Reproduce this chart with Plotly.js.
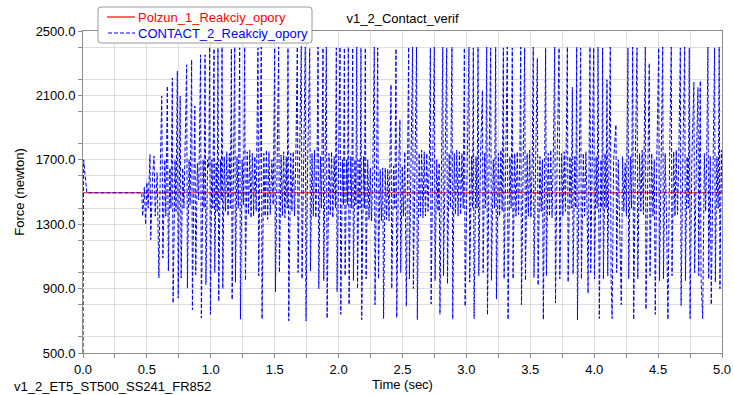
<!DOCTYPE html>
<html>
<head>
<meta charset="utf-8">
<script src="https://cdn.plot.ly/plotly-3.0.1.min.js"></script>
<style>html,body{margin:0;padding:0;background:#fff;}</style>
</head>
<body>
<div id="chart" style="width:734px;height:395px;"></div>
<script>
// ---- Data ----
const chartTitle = 'v1_2_Contact_verif';
const runLabel = 'v1_2_ET5_ST500_SS241_FR852';
const xTitle = 'Time (sec)';
const yTitle = 'Force (newton)';
const polzunName = 'Polzun_1_Reakciy_opory';
const contactName = 'CONTACT_2_Reakciy_opory';

// Polzun_1 reaction (constant)
const polzunTime = [0, 1, 2, 3, 4, 5];
const polzunForce = [1495, 1495, 1495, 1495, 1495, 1495];

// CONTACT_2 reaction, segment 0 - 0.98 s
const tA = [0, 0.005, 0.03, 0.46, 0.467, 0.48, 0.49, 0.50, 0.51, 0.524,
            0.53, 0.545, 0.556, 0.565, 0.58, 0.594, 0.605, 0.616, 0.625, 0.64,
            0.648, 0.66, 0.668, 0.68, 0.688, 0.699, 0.705, 0.72, 0.728, 0.738,
            0.745, 0.76, 0.768, 0.78, 0.79, 0.811, 0.817, 0.83, 0.838, 0.85,
            0.856, 0.875, 0.882, 0.895, 0.905, 0.92, 0.926, 0.94, 0.947, 0.955,
            0.962, 0.975];
const fA = [500, 1700, 1495, 1495, 1350, 1530, 1297, 1560, 1400, 1732,
            1204, 1600, 1723, 1350, 1620, 966, 1650, 2096, 1090, 1700,
            1350, 2158, 1009, 1650, 1400, 2208, 810, 1700, 1380, 2251,
            841, 2096, 966, 1650, 1400, 2290, 903, 1700, 1420, 2321,
            769, 2034, 986, 1680, 1450, 2352, 717, 1700, 1400, 2352,
            924, 1700];

// segment 0.98 - 2.0 s
const tB = [0.985, 0.991, 0.997, 1.008, 1.016, 1.025, 1.031, 1.042, 1.05, 1.056,
            1.062, 1.075, 1.082, 1.088, 1.094, 1.105, 1.115, 1.125, 1.135, 1.145,
            1.153, 1.161, 1.167, 1.178, 1.187, 1.193, 1.205, 1.215, 1.226, 1.232,
            1.245, 1.255, 1.265, 1.271, 1.285, 1.295, 1.305, 1.315, 1.325, 1.335,
            1.345, 1.355, 1.369, 1.375, 1.386, 1.395, 1.401, 1.415, 1.425, 1.435,
            1.445, 1.455, 1.465, 1.478, 1.488, 1.5, 1.506, 1.518, 1.531, 1.537,
            1.55, 1.56, 1.57, 1.58, 1.59, 1.598, 1.604, 1.61, 1.625, 1.635,
            1.645, 1.655, 1.665, 1.677, 1.683, 1.695, 1.708, 1.714, 1.726, 1.739,
            1.745, 1.758, 1.774, 1.78, 1.792, 1.802, 1.812, 1.822, 1.832, 1.839,
            1.845, 1.858, 1.866, 1.878, 1.884, 1.895, 1.904, 1.91, 1.925, 1.935,
            1.945, 1.955, 1.965, 1.975, 1.982, 1.988];
const fB = [1650, 2400, 740, 1700, 1400, 2390, 1000, 1680, 1380, 2395,
            820, 1700, 1450, 2400, 900, 1720, 1380, 1750, 1350, 1740,
            1400, 2390, 830, 1700, 2400, 940, 1720, 1400, 2395, 710,
            1700, 1420, 2400, 950, 1750, 1360, 1760, 1340, 1740, 1350,
            1720, 1380, 2395, 980, 1700, 2400, 710, 1740, 1350, 1760,
            1330, 1750, 1360, 1700, 1420, 2395, 880, 1700, 2400, 1000,
            1730, 1350, 1750, 1340, 1720, 1400, 2395, 700, 1740, 1380,
            1750, 1350, 1700, 2400, 1000, 1720, 2405, 960, 1700, 2400,
            700, 1700, 2390, 1010, 1740, 1350, 1760, 1340, 1700, 2400,
            900, 1720, 1400, 2395, 950, 1700, 2400, 715, 1740, 1360,
            1750, 1340, 1720, 1400, 2395, 880];

// segment 2.0 - 3.0 s
const tC = [2.0, 2.011, 2.017, 2.03, 2.038, 2.045, 2.051, 2.063, 2.07, 2.076,
            2.082, 2.095, 2.103, 2.11, 2.116, 2.128, 2.135, 2.142, 2.148, 2.16,
            2.168, 2.175, 2.181, 2.195, 2.202, 2.209, 2.215, 2.228, 2.238, 2.248,
            2.258, 2.268, 2.279, 2.285, 2.298, 2.306, 2.312, 2.325, 2.335, 2.345,
            2.352, 2.365, 2.375, 2.385, 2.395, 2.41, 2.416, 2.43, 2.44, 2.449,
            2.455, 2.468, 2.48, 2.486, 2.498, 2.508, 2.518, 2.53, 2.54, 2.548,
            2.554, 2.566, 2.579, 2.585, 2.598, 2.61, 2.616, 2.63, 2.64, 2.65,
            2.66, 2.67, 2.68, 2.69, 2.7, 2.71, 2.718, 2.724, 2.737, 2.749,
            2.755, 2.768, 2.778, 2.787, 2.793, 2.805, 2.815, 2.821, 2.834, 2.846,
            2.852, 2.865, 2.875, 2.887, 2.893, 2.905, 2.915, 2.925, 2.935, 2.945,
            2.955, 2.965, 2.975, 2.984, 2.99];
const fC = [1700, 2400, 740, 1700, 1420, 2395, 980, 1700, 1420, 2400,
            800, 1720, 1400, 2395, 950, 1700, 1420, 2400, 900, 1700,
            1400, 2395, 707, 1720, 1400, 2395, 960, 1700, 1330, 1650,
            1320, 1640, 2400, 800, 1700, 2395, 960, 1640, 1320, 1650,
            714, 1650, 1330, 1640, 1320, 2167, 900, 1660, 1400, 2390,
            720, 1600, 1949, 1000, 1660, 1350, 1750, 790, 1700, 2400,
            960, 1720, 2400, 900, 1700, 2400, 707, 1740, 1350, 1760,
            1340, 1750, 1350, 1740, 1380, 1700, 2395, 805, 1720, 2400,
            950, 1700, 1380, 1680, 740, 1700, 2400, 980, 1720, 2395,
            930, 1740, 1400, 2400, 710, 1740, 1360, 1760, 1350, 1750,
            1360, 1740, 1400, 2395, 790];

// segment 3.0 - 4.0 s
const tD = [3.005, 3.02, 3.026, 3.04, 3.048, 3.054, 3.06, 3.075, 3.083, 3.091,
            3.097, 3.11, 3.125, 3.131, 3.143, 3.15, 3.159, 3.165, 3.178, 3.19,
            3.196, 3.21, 3.22, 3.229, 3.235, 3.25, 3.26, 3.27, 3.28, 3.289,
            3.295, 3.308, 3.32, 3.326, 3.34, 3.35, 3.359, 3.365, 3.378, 3.388,
            3.398, 3.408, 3.418, 3.425, 3.431, 3.445, 3.456, 3.462, 3.475, 3.485,
            3.495, 3.505, 3.515, 3.523, 3.529, 3.542, 3.555, 3.561, 3.575, 3.585,
            3.595, 3.602, 3.612, 3.62, 3.626, 3.64, 3.65, 3.66, 3.67, 3.68,
            3.691, 3.697, 3.71, 3.725, 3.731, 3.745, 3.755, 3.765, 3.775, 3.79,
            3.796, 3.81, 3.82, 3.829, 3.835, 3.848, 3.856, 3.863, 3.869, 3.882,
            3.894, 3.9, 3.915, 3.925, 3.935, 3.945, 3.952, 3.96, 3.967, 3.973,
            3.985];
const fD = [1700, 2400, 940, 1720, 1400, 2395, 714, 1720, 1400, 2400,
            980, 1700, 2130, 1000, 1740, 1400, 2400, 737, 1720, 2395,
            950, 1700, 1400, 2400, 835, 1740, 1350, 1760, 1380, 2395,
            960, 1700, 2400, 707, 1720, 1400, 2395, 960, 1740, 1350,
            1750, 1360, 1700, 2400, 800, 1720, 2395, 950, 1740, 1350,
            1760, 1340, 1700, 2400, 970, 1700, 2330, 920, 1720, 1380,
            1700, 707, 1700, 2395, 980, 1740, 1350, 1760, 1340, 1720,
            2400, 810, 1700, 2395, 960, 1740, 1350, 1750, 1380, 2400,
            940, 1720, 1400, 2150, 990, 1720, 1400, 2400, 707, 1700,
            2395, 960, 1740, 1350, 1750, 1380, 870, 1700, 2400, 1000,
            1720];

// segment 4.0 - 5.0 s
const tE = [3.996, 4.002, 4.015, 4.023, 4.03, 4.04, 4.053, 4.06, 4.066, 4.072,
            4.085, 4.093, 4.1, 4.106, 4.118, 4.126, 4.132, 4.14, 4.152, 4.17,
            4.176, 4.188, 4.198, 4.212, 4.222, 4.232, 4.242, 4.252, 4.264, 4.27,
            4.283, 4.292, 4.301, 4.309, 4.322, 4.335, 4.341, 4.355, 4.365, 4.375,
            4.385, 4.4, 4.405, 4.418, 4.431, 4.437, 4.45, 4.46, 4.47, 4.478,
            4.49, 4.505, 4.511, 4.524, 4.536, 4.542, 4.555, 4.565, 4.577, 4.59,
            4.603, 4.609, 4.622, 4.632, 4.642, 4.652, 4.662, 4.674, 4.68, 4.694,
            4.708, 4.714, 4.727, 4.736, 4.744, 4.75, 4.764, 4.78, 4.786, 4.8,
            4.812, 4.818, 4.83, 4.836, 4.849, 4.862, 4.872, 4.88, 4.89, 4.896,
            4.908, 4.916, 4.928, 4.942, 4.948, 4.96, 4.97, 4.978, 4.984, 4.995,
            5.0];
const fE = [2395, 960, 1720, 1400, 2400, 714, 1700, 1400, 2395, 960,
            1740, 1400, 2197, 980, 1700, 2400, 960, 714, 1700, 1918,
            1000, 1700, 1350, 800, 1720, 1380, 1680, 1350, 2395, 960,
            1720, 1400, 2400, 707, 1700, 2395, 960, 1740, 1380, 1760,
            1360, 2400, 770, 1720, 2300, 980, 1740, 1350, 1700, 740,
            1720, 2395, 950, 1700, 2400, 960, 1740, 1380, 707, 1700,
            2400, 980, 1750, 1350, 1760, 1360, 1700, 2395, 795, 1720,
            2400, 950, 1720, 1400, 2395, 714, 1700, 2180, 1000, 1720,
            2150, 980, 2190, 960, 714, 1740, 1380, 1700, 2400, 960,
            1720, 800, 1700, 2395, 940, 1720, 1400, 2400, 900, 1760,
            1500];

const contactTime = [].concat(tA, tB, tC, tD, tE);
const contactForce = [].concat(fA, fB, fC, fD, fE);

// ---- Chart ----
const redC = 'rgb(255,0,0)';
const blueC = 'rgb(0,0,255)';
const blueDash = '4px,2px';

const traces = [
  {
    x: polzunTime, y: polzunForce, type: 'scatter', mode: 'lines',
    name: polzunName, showlegend: false,
    line: {color: redC, width: 1}
  },
  {
    x: contactTime, y: contactForce, type: 'scatter', mode: 'lines',
    name: contactName, showlegend: false,
    line: {color: blueC, width: 1, dash: blueDash}
  }
];

// plot area in pixels: left 83, right 722, top 31, bottom 353
const PL = 83, PR = 722, PT = 31, PB = 353;
const toPX = v => (v - PL) / (PR - PL);
const toPY = v => (PB - v) / (PB - PT);

// legend box (drawn as layout shapes + annotations)
const LB = {x0: 98, x1: 312, y0: 7, y1: 43, r: 3};
const boxPath = [
  'M', toPX(LB.x0 + LB.r), toPY(LB.y0),
  'L', toPX(LB.x1 - LB.r), toPY(LB.y0),
  'Q', toPX(LB.x1), toPY(LB.y0), toPX(LB.x1), toPY(LB.y0 + LB.r),
  'L', toPX(LB.x1), toPY(LB.y1 - LB.r),
  'Q', toPX(LB.x1), toPY(LB.y1), toPX(LB.x1 - LB.r), toPY(LB.y1),
  'L', toPX(LB.x0 + LB.r), toPY(LB.y1),
  'Q', toPX(LB.x0), toPY(LB.y1), toPX(LB.x0), toPY(LB.y1 - LB.r),
  'L', toPX(LB.x0), toPY(LB.y0 + LB.r),
  'Q', toPX(LB.x0), toPY(LB.y0), toPX(LB.x0 + LB.r), toPY(LB.y0),
  'Z'
].join(' ');

const gridC = '#dedede';
const axC = '#8c8c8c';
const layout = {
  width: 734, height: 395,
  margin: {l: 83, r: 12, t: 31, b: 42, pad: 0},
  paper_bgcolor: '#ffffff', plot_bgcolor: '#ffffff',
  font: {family: '"Liberation Sans", Arial, sans-serif', size: 13, color: '#000000'},
  title: {text: chartTitle, x: 0.5, xref: 'paper', xanchor: 'center',
          y: 1 - 18 / 395, yref: 'container', yanchor: 'middle',
          font: {size: 13, color: '#000000'}},
  showlegend: false,
  xaxis: {
    range: [0, 5], tick0: 0, dtick: 0.5, tickformat: '.1f',
    ticks: 'outside', ticklen: 4, tickcolor: axC, tickwidth: 1,
    showline: true, linecolor: axC, linewidth: 1, mirror: true,
    showgrid: true, gridcolor: gridC, gridwidth: 1, zeroline: false,
    minor: {dtick: 0.25, ticks: 'outside', ticklen: 4, tickcolor: axC, showgrid: true, gridcolor: gridC},
    title: {text: xTitle, standoff: 3, font: {size: 13}},
    automargin: false
  },
  yaxis: {
    range: [500, 2500], tick0: 500, dtick: 400, tickformat: '.1f',
    ticks: 'outside', ticklen: 4, tickcolor: axC, tickwidth: 1,
    showline: true, linecolor: axC, linewidth: 1, mirror: true,
    showgrid: true, gridcolor: gridC, gridwidth: 1, zeroline: false,
    minor: {dtick: 200, ticks: 'outside', ticklen: 4, tickcolor: axC, showgrid: true, gridcolor: gridC},
    title: {text: yTitle, standoff: 8, font: {size: 13}},
    automargin: false
  },
  shapes: [
    {type: 'path', xref: 'paper', yref: 'paper', path: boxPath,
     fillcolor: 'rgb(255,255,255)', opacity: 1,
     line: {color: 'rgb(154,154,154)', width: 1}, layer: 'above'},
    {type: 'line', xref: 'paper', yref: 'paper',
     x0: toPX(107), x1: toPX(135), y0: toPY(17), y1: toPY(17),
     opacity: 1, line: {color: redC, width: 1.2}, layer: 'above'},
    {type: 'line', xref: 'paper', yref: 'paper',
     x0: toPX(108), x1: toPX(135), y0: toPY(33), y1: toPY(33),
     opacity: 1, line: {color: blueC, width: 1.2, dash: blueDash}, layer: 'above'}
  ],
  annotations: [
    {text: polzunName, xref: 'paper', yref: 'paper',
     x: toPX(136), y: toPY(17.5), xanchor: 'left', yanchor: 'middle',
     showarrow: false, font: {size: 13, color: redC}},
    {text: contactName, xref: 'paper', yref: 'paper',
     x: toPX(136), y: toPY(33.5), xanchor: 'left', yanchor: 'middle',
     showarrow: false, font: {size: 13, color: blueC}},
    {text: runLabel, xref: 'paper', yref: 'paper',
     x: toPX(12), y: toPY(386), xanchor: 'left', yanchor: 'middle',
     showarrow: false, font: {size: 13, color: '#000000'}}
  ]
};

if (contactTime.length !== contactForce.length) {
  console.error('length mismatch', contactTime.length, contactForce.length);
}

Plotly.newPlot('chart', traces, layout, {staticPlot: true, displayModeBar: false});
</script>
</body>
</html>
